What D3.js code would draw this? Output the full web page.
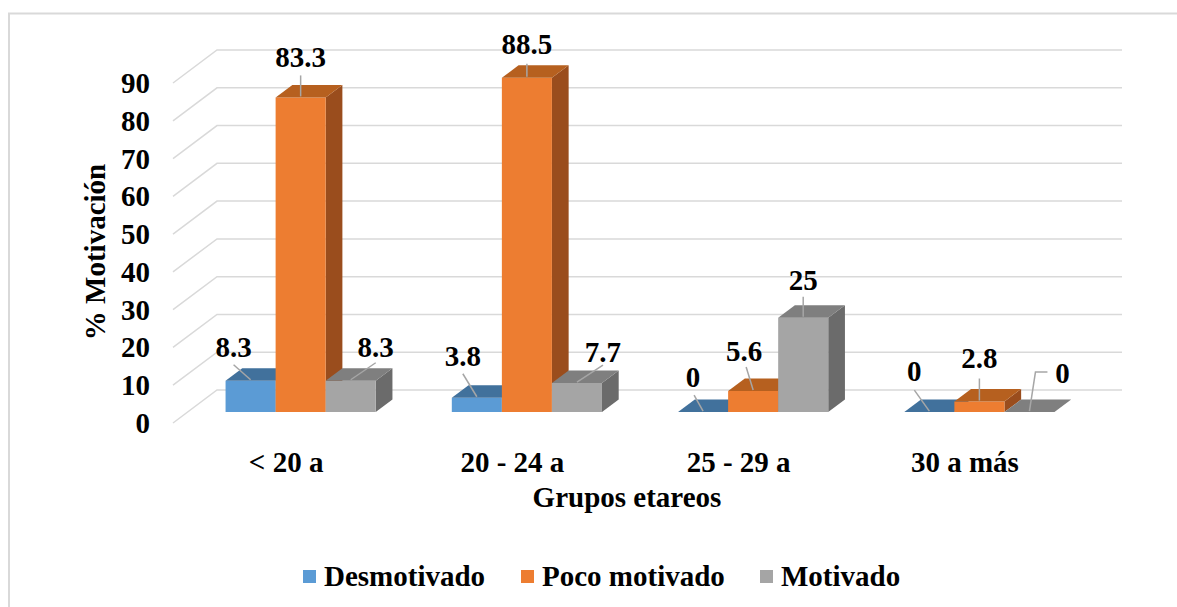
<!DOCTYPE html>
<html>
<head>
<meta charset="utf-8">
<script src="https://cdn.jsdelivr.net/npm/d3@7"></script>
<style>
    body { margin: 0; background: #fff; }
</style>
</head>
<body>
<svg id="chart" width="1177" height="607" font-family="'Times New Roman', 'Liberation Serif', 'DejaVu Serif', serif" font-weight="bold"></svg>
<script>
// chart values
let categories = ["< 20 a", "20 - 24 a", "25 - 29 a", "30 a más"];
let seriesNames = ["Desmotivado", "Poco motivado", "Motivado"];
let desmotivado = [8.3, 3.8, 0, 0];
let pocoMotivado = [83.3, 88.5, 5.6, 2.8];
let motivado = [8.3, 7.7, 25, 0];
let yTicks = [0, 10, 20, 30, 40, 50, 60, 70, 80, 90];

// label placement (relative to the bar's top front center): [labelDx, labelDy, leader points]
let labelLayout = [
    [[-17, -34, [[-17, -16]]], [0, -40, [[0, -22]]], [25, -34, [[25, -18]]]],
    [[-14, -42, [[-14, -24]]], [0, -34, [[0, -14]]], [26, -31, [[26, -18]]]],
    [[-10, -35, [[-9, -17]]], [-9, -40, [[-7, -24]]], [0, -38, [[0, -21]]]],
    [[-15, -41, [[-15, -22]]], [0, -44, [[0, -23]]], [33, -39, [[18, -40], [6, -40]]]]
];

let colors = [
    {front: "#5b9bd5", top: "#41719c", side: "#3a6690"},
    {front: "#ed7d31", top: "#b6601f", side: "#9a4d1d"},
    {front: "#a5a5a5", top: "#7f7f7f", side: "#6b6b6b"}
];

const FONT = 29;

function draw() {
    let svg = d3.select("#chart");
    svg.selectAll("*").remove();

    let values = [desmotivado, pocoMotivado, motivado];

    // frame
    svg.append("rect")
        .attr("x", 9).attr("y", 13.5)
        .attr("width", 1200).attr("height", 700)
        .attr("fill", "none")
        .attr("stroke", "#d9d9d9")
        .attr("stroke-width", 2);

    // 3d geometry: floor front left at x=173, depth offset (44, -33)
    let depth = {dx: 44, dy: -33};
    let barDepth = [0.33, 0.71];

    let y = d3.scaleLinear().domain([0, 90]).range([423, 83]);
    let x0 = d3.scaleBand().domain(categories).range([173, 1078])
        .paddingInner(76 / 226).paddingOuter(38 / 226);
    let x1 = d3.scaleBand().domain(seriesNames).range([0, x0.bandwidth()]);

    let proj = (px, v, d) => [px + depth.dx * d, y(v) + depth.dy * d];

    // gridlines: side wall diagonal + back wall
    let backRight = 1078 + depth.dx;
    let gridLine = d3.line();
    svg.append("g")
        .selectAll("path")
        .data(yTicks)
        .join("path")
        .attr("d", t => gridLine([proj(173, t, 0), proj(173, t, 1), [backRight, y(t) + depth.dy]]))
        .attr("fill", "none")
        .attr("stroke", "#d9d9d9")
        .attr("stroke-width", 1.5);

    // y tick labels
    svg.append("g")
        .selectAll("text")
        .data(yTicks)
        .join("text")
        .attr("x", 150)
        .attr("y", t => y(t) + 10)
        .attr("text-anchor", "end")
        .attr("font-size", FONT)
        .text(t => t);

    // bars, drawn left to right so each front face covers the neighbour's side
    let bars = svg.append("g");
    let poly = pts => "M" + pts.map(p => p.join(",")).join("L") + "Z";
    let anchors = [];
    categories.forEach((cat, ci) => {
        seriesNames.forEach((name, si) => {
            let v = values[si][ci];
            let xl = x0(cat) + x1(name);
            let xr = xl + x1.bandwidth();
            let [d0, d1] = barDepth;
            let c = colors[si];
            let side = [proj(xr, 0, d0), proj(xr, v, d0), proj(xr, v, d1), proj(xr, 0, d1)];
            let top = [proj(xl, v, d0), proj(xr, v, d0), proj(xr, v, d1), proj(xl, v, d1)];
            let front = [proj(xl, 0, d0), proj(xr, 0, d0), proj(xr, v, d0), proj(xl, v, d0)];
            if (v > 0) {
                bars.append("path").attr("d", poly(side)).attr("fill", c.side);
                bars.append("path").attr("d", poly(front)).attr("fill", c.front);
            }
            bars.append("path").attr("d", poly(top)).attr("fill", c.top);
            anchors.push({v: v, ci: ci, si: si, pt: proj((xl + xr) / 2, v, d0)});
        });
    });

    // data labels with leader lines
    let labels = svg.append("g");
    anchors.forEach(a => {
        let [dx, dy, leader] = labelLayout[a.ci][a.si];
        let [ax, ay] = a.pt;
        let pts = leader.map(p => [ax + p[0], ay + p[1]]).concat([[ax, ay - 1]]);
        labels.append("path")
            .attr("d", d3.line()(pts))
            .attr("fill", "none")
            .attr("stroke", "#a6a6a6")
            .attr("stroke-width", 1.5);
        labels.append("text")
            .attr("x", ax + dx)
            .attr("y", ay + dy + 10)
            .attr("text-anchor", "middle")
            .attr("font-size", FONT)
            .text(a.v);
    });

    // category labels at the floor front
    svg.append("g")
        .selectAll("text")
        .data(categories)
        .join("text")
        .attr("x", c => x0(c) + x0.bandwidth() / 2)
        .attr("y", 472)
        .attr("text-anchor", "middle")
        .attr("font-size", FONT)
        .text(c => c);

    // axis titles
    svg.append("text")
        .attr("x", 627).attr("y", 507)
        .attr("text-anchor", "middle")
        .attr("font-size", FONT)
        .text("Grupos etareos");

    svg.append("text")
        .attr("transform", "translate(105,252) rotate(-90)")
        .attr("text-anchor", "middle")
        .attr("font-size", FONT)
        .text("% Motivación");

    // legend
    let legendX = [303, 521, 760];
    let legend = svg.append("g");
    seriesNames.forEach((name, i) => {
        legend.append("rect")
            .attr("x", legendX[i]).attr("y", 570)
            .attr("width", 13).attr("height", 13)
            .attr("fill", colors[i].front);
        legend.append("text")
            .attr("x", legendX[i] + 21).attr("y", 586)
            .attr("font-size", FONT)
            .text(name);
    });
}

draw();
</script>
</body>
</html>
